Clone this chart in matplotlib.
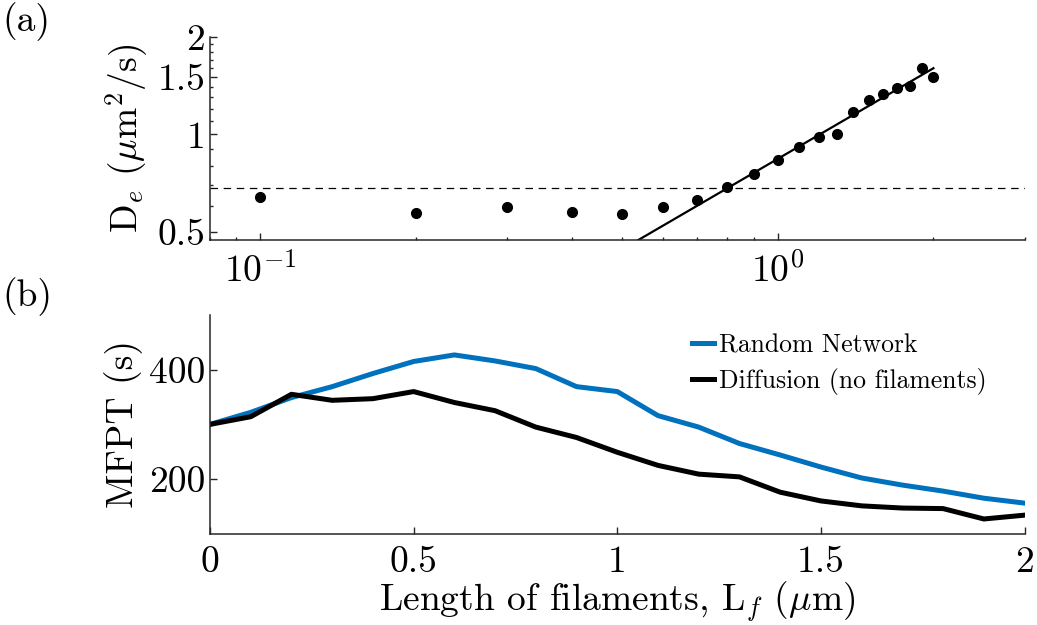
import numpy as np
import matplotlib
matplotlib.use('Agg')
from matplotlib import pyplot as plt
from matplotlib.ticker import FixedLocator, NullFormatter, LogLocator, LogFormatterSciNotation

plt.rcParams['font.family'] = 'serif'
plt.rcParams['font.serif'] = ['cmr10']
plt.rcParams['mathtext.fontset'] = 'cm'
plt.rcParams['axes.formatter.use_mathtext'] = True

# (a) effective diffusion coefficient vs filament length
L_a = [0.1, 0.2, 0.3, 0.4, 0.5, 0.6, 0.7, 0.8, 0.9, 1.0,
       1.1, 1.2, 1.3, 1.4, 1.5, 1.6, 1.7, 1.8, 1.9, 2.0]
D_e = [0.642, 0.573, 0.598, 0.577, 0.569, 0.598, 0.628, 0.689, 0.756, 0.836,
       0.911, 0.985, 1.00, 1.17, 1.28, 1.33, 1.39, 1.41, 1.60, 1.50]
D_free = 0.685            # dashed reference level
fit_pref, fit_exp = 0.84, 0.93   # power-law fit D = a * L^b
fit_range = [0.5, 2.0]

# (b) mean first passage time
L_b = [0.0, 0.1, 0.2, 0.3, 0.4, 0.5, 0.6, 0.7, 0.8, 0.9, 1.0,
       1.1, 1.2, 1.3, 1.4, 1.5, 1.6, 1.7, 1.8, 1.9, 2.0]
mfpt_network = [300, 322, 349, 369, 393, 415, 427, 416, 402, 369, 360,
                316, 295, 265, 244, 222, 202, 189, 178, 165, 156]
mfpt_diffusion = [300, 314, 355, 344, 347, 360, 340, 325, 295, 276, 249,
                  225, 209, 204, 176, 160, 151, 147, 146, 127, 134]

axcol = '#262626'
fs = 27

fig = plt.figure(figsize=(10.37, 6.25), dpi=100)

def style(ax):
    for s in ['top', 'right']:
        ax.spines[s].set_visible(False)
    for s in ['left', 'bottom']:
        ax.spines[s].set_color(axcol)
        ax.spines[s].set_linewidth(1.1)
    ax.tick_params(which='both', direction='in', colors=axcol, labelcolor='k',
                   labelsize=fs, width=1.0)
    ax.tick_params(which='major', length=5)
    ax.tick_params(which='minor', length=2.5)

ax1 = fig.add_axes([0.2025, 0.616, 0.7855, 0.325])
ax1.set_xscale('log')
ax1.set_yscale('log')
ax1.plot(L_a, D_e, 'o', color='k', markersize=7, zorder=3)
Lfit = np.linspace(fit_range[0], fit_range[1], 50)
ax1.plot(Lfit, fit_pref * Lfit ** fit_exp, '-', color='k', lw=1.6)
ax1.axhline(D_free, ls='--', color='k', lw=0.9, dashes=(6, 4.5))
ax1.set_xlim(0.08, 3)
ax1.set_ylim(0.472, 2.0)
style(ax1)
ax1.xaxis.set_major_locator(LogLocator(base=10))
ax1.xaxis.set_major_formatter(LogFormatterSciNotation())
ax1.xaxis.set_minor_locator(LogLocator(base=10, subs=np.arange(2, 10)))
ax1.xaxis.set_minor_formatter(NullFormatter())
ax1.yaxis.set_major_locator(FixedLocator([0.5, 1, 1.5, 2]))
ax1.yaxis.set_minor_locator(FixedLocator(np.round(np.arange(0.5, 2.01, 0.1), 2)))
ax1.yaxis.set_minor_formatter(NullFormatter())
ax1.set_yticklabels(['0.5', '1', '1.5', '2'])
ax1.tick_params(axis='x', pad=9)
ax1.set_ylabel(r'D$_e$ ($\mu$m$^2$/s)', fontsize=fs)
ax1.yaxis.set_label_coords(-0.074, 0.5)

ax2 = fig.add_axes([0.2025, 0.146, 0.7855, 0.350])
ax2.plot(L_b, mfpt_network, color='#0072BD', lw=3.6, label='Random Network')
ax2.plot(L_b, mfpt_diffusion, color='k', lw=3.6, label='Diffusion (no filaments)')
ax2.set_xlim(0, 2)
ax2.set_ylim(100, 500)
style(ax2)
ax2.set_xticks([0, 0.5, 1, 1.5, 2])
ax2.set_xticklabels(['0', '0.5', '1', '1.5', '2'])
ax2.set_yticks([200, 400])
ax2.set_yticklabels(['200', '400'])
ax2.tick_params(axis='x', pad=9)
ax2.set_xlabel(r'Length of filaments, L$_f$ ($\mu$m)', fontsize=fs, labelpad=0)
ax2.set_ylabel('MFPT (s)', fontsize=fs)
ax2.yaxis.set_label_coords(-0.082, 0.5)
ax2.legend(loc='upper left', bbox_to_anchor=(0.592, 0.915), frameon=False,
           fontsize=18.5, handlelength=0.85, handletextpad=0.2,
           labelspacing=0.4, borderpad=0, borderaxespad=0)

fig.text(0.002, 0.965, '(a)', fontsize=fs, va='center')
fig.text(0.002, 0.525, '(b)', fontsize=fs, va='center')

fig.savefig('out.png', dpi=100)
